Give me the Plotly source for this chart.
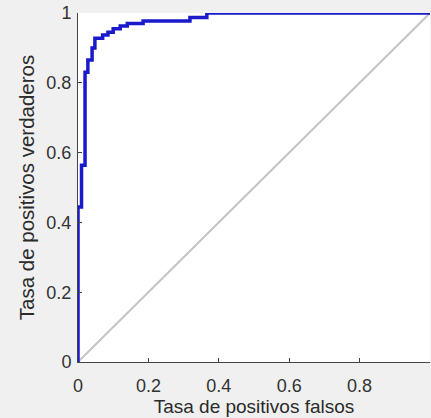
import plotly.graph_objects as go

# ROC curve (step points)
fpr = [0, 0, 0.01, 0.01, 0.02, 0.02, 0.028, 0.028, 0.04, 0.04, 0.048, 0.048,
       0.07, 0.07, 0.085, 0.085, 0.10, 0.10, 0.12, 0.12, 0.14, 0.14,
       0.185, 0.185, 0.318, 0.318, 0.366, 0.366, 1.0]
tpr = [0, 0.444, 0.444, 0.564, 0.564, 0.83, 0.83, 0.865, 0.865, 0.90, 0.90, 0.928,
       0.928, 0.937, 0.937, 0.945, 0.945, 0.955, 0.955, 0.963, 0.963, 0.97,
       0.97, 0.977, 0.977, 0.987, 0.987, 1.0, 1.0]
diag_x = [0, 1]
diag_y = [0, 1]
tick_vals = [0, 0.2, 0.4, 0.6, 0.8, 1]
tick_text = ["0", "0.2", "0.4", "0.6", "0.8", "1"]

fig = go.Figure()
fig.add_trace(go.Scatter(x=diag_x, y=diag_y, mode="lines",
                         line=dict(color="#c4c4c4", width=2), hoverinfo="skip"))
fig.add_trace(go.Scatter(x=fpr, y=tpr, mode="lines",
                         line=dict(color="#1a1acc", width=3.5)))

font = dict(family="Liberation Sans, Arial, sans-serif", color="#2b2b2b")
fig.update_layout(
    width=431, height=418,
    margin=dict(l=78, r=1, t=13, b=56),
    paper_bgcolor="#f0f0f0", plot_bgcolor="white",
    showlegend=False,
    font=font,
)
fig.update_xaxes(range=[0, 1], tickvals=tick_vals, ticktext=tick_text,
                 ticks="inside", ticklen=4, tickcolor="#444",
                 showline=True, linecolor="#444", linewidth=1,
                 showgrid=False, zeroline=False, automargin=False,
                 ticklabelstandoff=7,
                 tickfont=dict(size=18, color="#333"),
                 title=dict(text="Tasa de positivos falsos", font=dict(size=19, color="#2b2b2b"), standoff=0))
fig.update_yaxes(range=[0, 1], tickvals=tick_vals, ticktext=tick_text,
                 ticks="inside", ticklen=4, tickcolor="#444",
                 showline=True, linecolor="#444", linewidth=1,
                 showgrid=False, zeroline=False, automargin=False,
                 ticklabelstandoff=2,
                 tickfont=dict(size=18, color="#333"),
                 title=dict(text="Tasa de positivos verdaderos", font=dict(size=20.5, color="#2b2b2b"), standoff=6))

fig.write_html("out.html", config={"displayModeBar": False},
               post_script="document.body.style.margin='0';document.body.style.background='#f0f0f0';")
